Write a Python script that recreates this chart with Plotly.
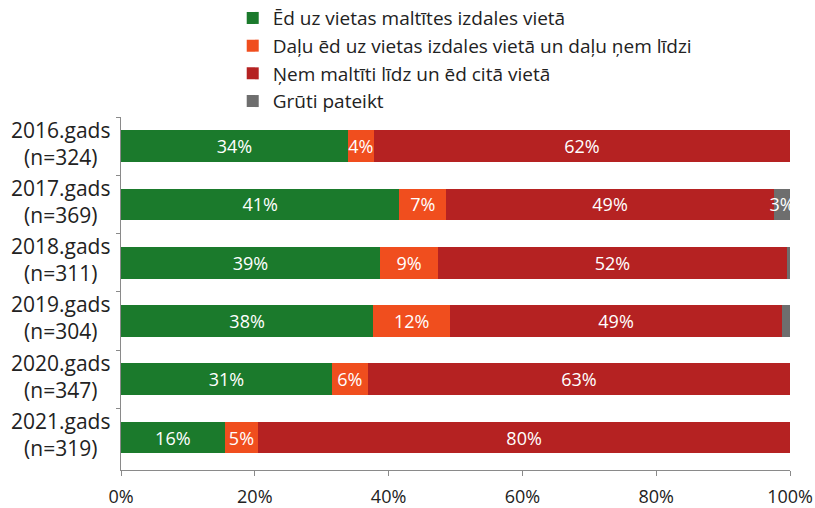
import plotly.graph_objects as go

years = ['2016.gads', '2017.gads', '2018.gads', '2019.gads', '2020.gads', '2021.gads']
sample_sizes = ['(n=324)', '(n=369)', '(n=311)', '(n=304)', '(n=347)', '(n=319)']

series_names = [
  'Ēd uz vietas maltītes izdales vietā',
  'Daļu ēd uz vietas izdales vietā un daļu ņem līdzi',
  'Ņem maltīti līdz un ēd citā vietā',
  'Grūti pateikt',
]

# shares (percent)
eat_here = [33.9, 41.6, 38.7, 37.7, 31.5, 15.5]
partly = [3.9, 7.0, 8.7, 11.5, 5.4, 5.0]
take_away = [62.2, 49.0, 52.1, 49.6, 63.1, 79.5]
hard_to_say = [0.0, 2.4, 0.5, 1.2, 0.0, 0.0]

# printed labels
eat_here_lbl = ['34%', '41%', '39%', '38%', '31%', '16%']
partly_lbl = ['4%', '7%', '9%', '12%', '6%', '5%']
take_away_lbl = ['62%', '49%', '52%', '49%', '63%', '80%']
hard_to_say_lbl = ['', '3%', '', '', '', '']

x_ticks = [0, 20, 40, 60, 80, 100]
x_tick_text = ['0%', '20%', '40%', '60%', '80%', '100%']

colors = ['#1b7a2c', '#f04e1e', '#b52222', '#6e6e6e']

FONT = 'Open Sans'
TEXT = '#222222'
AXIS = '#8a8a8a'

fig = go.Figure()
for name, vals, lbls, col in zip(series_names,
                                 [eat_here, partly, take_away, hard_to_say],
                                 [eat_here_lbl, partly_lbl, take_away_lbl, hard_to_say_lbl],
                                 colors):
  fig.add_trace(go.Bar(
    y = years,
    x = vals,
    name = name,
    orientation = 'h',
    marker = {'color': col, 'line': {'width': 0}},
    text = lbls,
    textposition = 'inside',
    insidetextanchor = 'middle',
    textangle = 0,
    textfont = {'color': 'white', 'size': 18, 'family': FONT},
    hoverinfo = 'skip',
  ))

# category labels, centred in two lines like the original
for yr, n in zip(years, sample_sizes):
  fig.add_annotation(
    x = -0.091, xref = 'paper', xanchor = 'center',
    y = yr, yref = 'y', yanchor = 'middle', yshift = 3,
    text = yr + '<br>' + n,
    align = 'center',
    showarrow = False,
    font = {'size': 21, 'family': FONT, 'color': TEXT},
  )

fig.update_layout(
  width = 815,
  height = 508,
  barmode = 'stack',
  bargap = 0.456,
  plot_bgcolor = 'white',
  paper_bgcolor = 'white',
  font = {'family': FONT, 'size': 18, 'color': TEXT},
  margin = {'l': 121, 'r': 25, 't': 117, 'b': 38, 'autoexpand': False},
  uniformtext = {'minsize': 18, 'mode': 'show'},
  legend = {
    'x': 0.167, 'y': 1.334, 'xanchor': 'left', 'yanchor': 'top',
    'font': {'size': 19, 'family': FONT, 'color': TEXT},
    'traceorder': 'normal',
    'itemwidth': 30,
    'tracegroupgap': 0,
  },
  xaxis = {
    'range': [0, 100],
    'tickvals': x_ticks,
    'ticktext': x_tick_text,
    'showgrid': False,
    'zeroline': False,
    'showline': True,
    'linecolor': AXIS,
    'ticks': 'outside',
    'ticklen': 5,
    'tickcolor': AXIS,
    'tickfont': {'size': 18},
    'ticklabelstandoff': 5,
    'automargin': False,
  },
  yaxis = {
    'autorange': 'reversed',
    'showgrid': False,
    'showline': True,
    'linecolor': AXIS,
    'ticks': 'outside',
    'tickson': 'boundaries',
    'ticklen': 4,
    'tickcolor': AXIS,
    'showticklabels': False,
    'automargin': False,
  },
)

# the page's default body margin would push the figure 8px off the window
fig.write_html('out.html', config = {'displayModeBar': False},
               post_script = "document.body.style.margin = '0';")
